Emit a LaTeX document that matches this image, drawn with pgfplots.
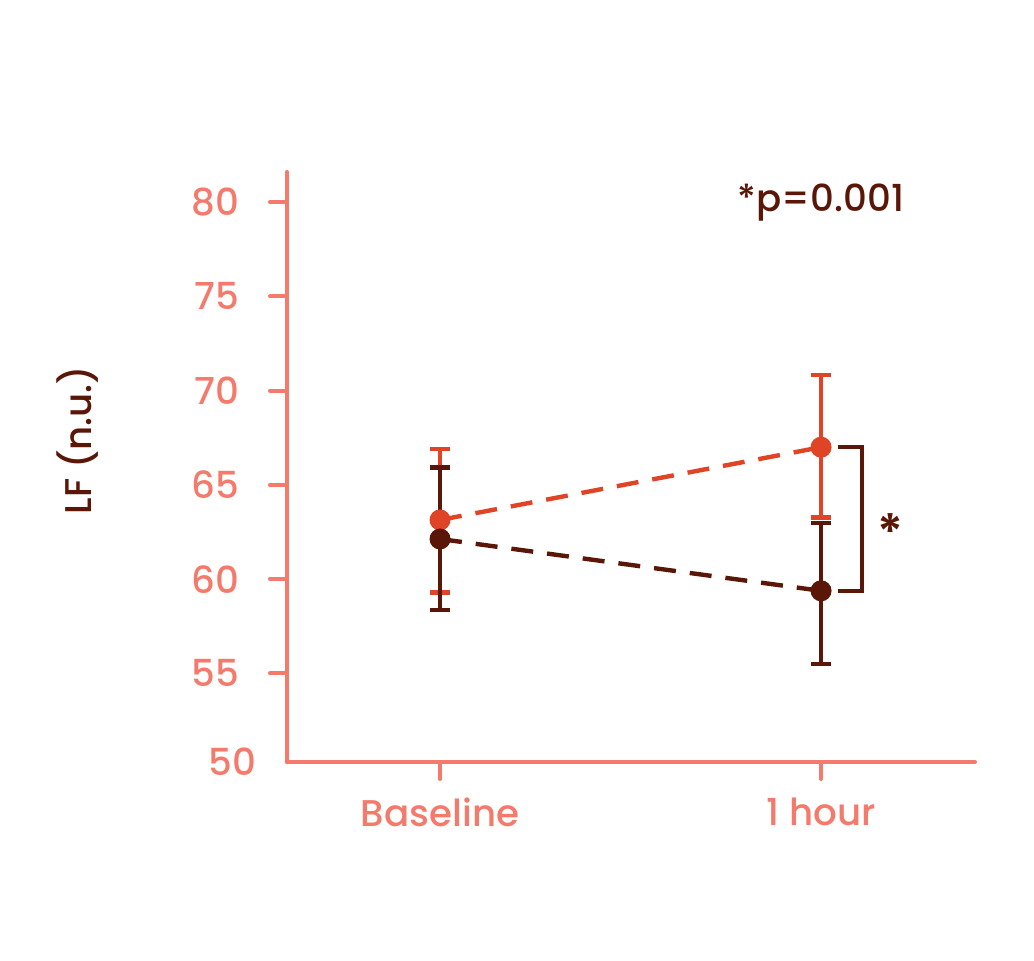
\documentclass[border=0pt]{standalone}
\usepackage{fontspec}
\setmainfont{Poppins}[UprightFont=* Medium, BoldFont=* SemiBold]
\usepackage{pgfplots}
\pgfplotsset{compat=1.18}
\definecolor{axc}{HTML}{F47A6B}
\definecolor{orc}{HTML}{E04426}
\definecolor{dkc}{HTML}{5A1606}
\begin{document}
\begin{tikzpicture}[x=1pt,y=1pt]
\path (0,0) rectangle (517,480.5);
\begin{axis}[
 at={(143.5pt,99.5pt)}, anchor=south west,
 scale only axis, width=344pt, height=295pt,
 xmin=-0.4016, xmax=1.404, ymin=50.3, ymax=81.6,
 clip=false,
 axis lines=left,
 axis line style={-, axc, line width=2pt, line cap=round},
 tick align=outside,
 major tick length=8.5pt,
 tick style={axc, line width=2pt, line cap=round},
 xtick={0,1}, xticklabels={Baseline,1 hour},
 ytick={55,60,65,70,75,80},
 extra y ticks={50.3}, extra y tick labels={50},
 extra y tick style={major tick length=0pt},
 /pgf/number format/assume math mode=true,
 ticklabel style={font=\fontsize{18.6}{22}\selectfont, text=axc},
 yticklabel style={xshift=-12pt},
 xticklabel style={yshift=-6pt},
]
\addplot[orc, line width=2.2pt, dash pattern=on 11pt off 7pt,
  mark=*, mark size=5pt, mark options={solid, fill=orc, draw=orc, line width=0.5pt},
  error bars/.cd, y dir=both, y explicit,
  error bar style={solid, line width=2.2pt, orc},
  error mark options={solid, line width=2.2pt, mark size=5pt, orc, rotate=90}]
 coordinates {(0,63.14) += (0,3.75) -= (0,3.84) (1,67.0) += (0,3.83) -= (0,3.72)};
\addplot[dkc, line width=2.2pt, dash pattern=on 11pt off 7pt,
  mark=*, mark size=5pt, mark options={solid, fill=dkc, draw=dkc, line width=0.5pt},
  error bars/.cd, y dir=both, y explicit,
  error bar style={solid, line width=2.2pt, dkc},
  error mark options={solid, line width=2.2pt, mark size=5pt, dkc, rotate=90}]
 coordinates {(0,62.13) += (0,3.8) -= (0,3.77) (1,59.38) += (0,3.6) -= (0,3.89)};
\addplot[dkc, line width=2.2pt, mark=none] coordinates {(1.045,67.0) (1.108,67.0) (1.108,59.38) (1.045,59.38)};
\node[text=dkc, font=\fontsize{18.6}{22}\selectfont] at (axis cs:1,80) {*p=0.001};
\node[text=dkc, font=\fontsize{25}{27}\selectfont\bfseries] at (axis cs:1.183,62.5) {*};
\end{axis}
\node[rotate=90, text=dkc, font=\fontsize{18.6}{22}\selectfont] at (39pt,260.5pt) {LF (n.u.)};
\end{tikzpicture}
\end{document}
